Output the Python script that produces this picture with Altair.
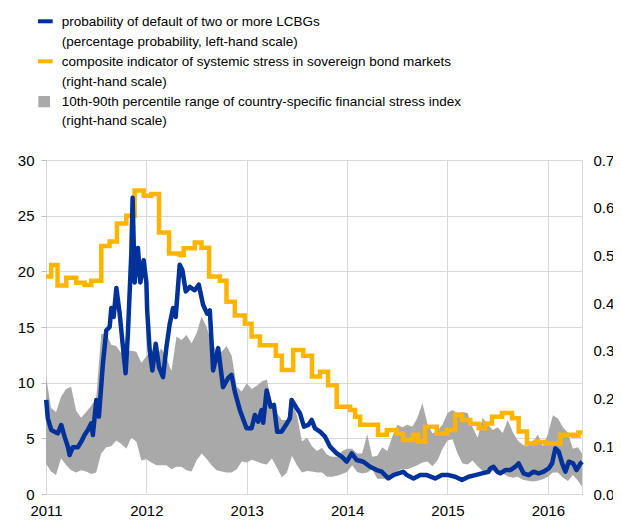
import altair as alt
import pandas as pd

# ---------------- data ----------------
# probability of default of two or more LCBGs (left-hand scale, %)
pd_years = [2011.002, 2011.018, 2011.052, 2011.085, 2011.118, 2011.152, 2011.185, 2011.218, 2011.235, 2011.267,
            2011.317, 2011.351, 2011.384, 2011.417, 2011.451, 2011.467, 2011.501, 2011.527, 2011.567, 2011.601,
            2011.634, 2011.651, 2011.674, 2011.701, 2011.734, 2011.760, 2011.793, 2011.816, 2011.850, 2011.863,
            2011.883, 2011.916, 2011.940, 2011.973, 2012.000, 2012.008, 2012.033, 2012.060, 2012.093, 2012.126,
            2012.166, 2012.200, 2012.233, 2012.266, 2012.292, 2012.332, 2012.359, 2012.392, 2012.432, 2012.482,
            2012.522, 2012.565, 2012.605, 2012.632, 2012.665, 2012.715, 2012.764, 2012.814, 2012.848, 2012.881,
            2012.931, 2012.998, 2013.048, 2013.081, 2013.114, 2013.148, 2013.164, 2013.198, 2013.238, 2013.271,
            2013.303, 2013.347, 2013.390, 2013.430, 2013.447, 2013.497, 2013.530, 2013.570, 2013.613, 2013.647,
            2013.680, 2013.730, 2013.780, 2013.830, 2013.896, 2013.946, 2013.996, 2014.046, 2014.096, 2014.162,
            2014.229, 2014.295, 2014.345, 2014.411, 2014.461, 2014.511, 2014.561, 2014.595, 2014.661, 2014.728,
            2014.794, 2014.877, 2014.944, 2015.010, 2015.077, 2015.144, 2015.210, 2015.277, 2015.343, 2015.409,
            2015.426, 2015.459, 2015.496, 2015.526, 2015.576, 2015.626, 2015.676, 2015.709, 2015.759, 2015.808,
            2015.858, 2015.908, 2015.958, 2016.008, 2016.042, 2016.075, 2016.108, 2016.142, 2016.175, 2016.208,
            2016.252, 2016.285, 2016.325, 2016.341]
pd_values = [8.45, 6.8, 5.75, 5.6, 5.45, 6.2, 5.15, 4.25, 3.5, 4.2,
             4.2, 4.7, 5.3, 5.75, 6.35, 5.3, 8.45, 6.95, 11.7, 14.7,
             15.0, 16.7, 15.9, 18.5, 16.2, 13.8, 10.85, 14.4, 21.6, 26.6,
             19.0, 22.1, 19.0, 21.0, 19.0, 16.5, 12.9, 11.1, 13.5, 11.4,
             10.5, 13.2, 15.3, 16.7, 15.9, 20.6, 20.1, 18.2, 18.6, 18.3,
             18.8, 17.0, 16.2, 16.5, 11.1, 13.1, 9.6, 10.4, 10.7, 9.2,
             7.55, 5.9, 5.9, 7.1, 6.5, 7.55, 6.4, 9.3, 7.85, 8.0,
             5.6, 5.6, 6.2, 6.8, 8.45, 7.7, 7.25, 6.05, 6.2, 6.65,
             5.9, 5.6, 5.15, 4.25, 3.65, 3.35, 2.9, 3.65, 3.05, 2.9,
             2.45, 2.15, 2.0, 1.4, 1.7, 1.85, 2.0, 1.7, 1.4, 1.7,
             1.7, 1.4, 1.7, 1.7, 1.55, 1.25, 1.55, 1.7, 1.85, 2.0,
             2.3, 2.45, 2.0, 1.85, 2.15, 2.15, 2.45, 2.75, 1.85, 1.7,
             2.0, 1.85, 2.0, 2.3, 2.75, 4.1, 3.8, 2.75, 2.0, 2.9,
             2.75, 2.15, 2.75, 2.9]

# composite indicator of systemic stress in sovereign bond markets (right-hand scale)
ciss_years = [2011.000, 2011.052, 2011.115, 2011.202, 2011.301, 2011.384, 2011.451, 2011.551, 2011.634, 2011.707,
              2011.800, 2011.883, 2011.973, 2012.050, 2012.126, 2012.226, 2012.332, 2012.372, 2012.482, 2012.549,
              2012.625, 2012.732, 2012.798, 2012.881, 2012.981, 2013.048, 2013.131, 2013.290, 2013.350, 2013.463,
              2013.563, 2013.650, 2013.730, 2013.810, 2013.896, 2014.030, 2014.080, 2014.130, 2014.308, 2014.395,
              2014.495, 2014.558, 2014.658, 2014.708, 2014.778, 2014.894, 2014.994, 2015.077, 2015.144, 2015.227,
              2015.310, 2015.376, 2015.443, 2015.543, 2015.643, 2015.709, 2015.792, 2015.875, 2015.975, 2016.125,
              2016.254, 2016.304, 2016.341]
ciss_values = [0.456, 0.48, 0.437, 0.453, 0.443, 0.438, 0.447, 0.52, 0.529, 0.567,
               0.583, 0.636, 0.625, 0.629, 0.548, 0.504, 0.501, 0.515, 0.527, 0.516,
               0.456, 0.447, 0.403, 0.374, 0.357, 0.33, 0.312, 0.29, 0.26, 0.302,
               0.29, 0.246, 0.256, 0.228, 0.183, 0.176, 0.162, 0.145, 0.124, 0.134,
               0.127, 0.113, 0.124, 0.11, 0.141, 0.127, 0.134, 0.166, 0.155, 0.147,
               0.138, 0.148, 0.162, 0.17, 0.159, 0.131, 0.106, 0.109, 0.106, 0.124,
               0.122, 0.129, 0.129]

# 10th-90th percentile range of country-specific financial stress index (right-hand scale)
band_years = [2011.00, 2011.05, 2011.10, 2011.15, 2011.20, 2011.25, 2011.30, 2011.35, 2011.40, 2011.45,
              2011.50, 2011.55, 2011.60, 2011.65, 2011.70, 2011.75, 2011.80, 2011.85, 2011.90, 2011.95,
              2012.00, 2012.05, 2012.10, 2012.15, 2012.20, 2012.25, 2012.30, 2012.35, 2012.40, 2012.45,
              2012.50, 2012.55, 2012.60, 2012.65, 2012.70, 2012.75, 2012.80, 2012.85, 2012.90, 2012.95,
              2013.00, 2013.05, 2013.10, 2013.15, 2013.20, 2013.25, 2013.30, 2013.35, 2013.40, 2013.45,
              2013.50, 2013.55, 2013.60, 2013.65, 2013.70, 2013.75, 2013.80, 2013.85, 2013.90, 2013.95,
              2014.00, 2014.05, 2014.10, 2014.15, 2014.20, 2014.25, 2014.30, 2014.35, 2014.40, 2014.45,
              2014.50, 2014.55, 2014.60, 2014.65, 2014.70, 2014.75, 2014.80, 2014.85, 2014.90, 2014.95,
              2015.00, 2015.05, 2015.10, 2015.15, 2015.20, 2015.25, 2015.30, 2015.35, 2015.40, 2015.45,
              2015.50, 2015.55, 2015.60, 2015.65, 2015.70, 2015.75, 2015.80, 2015.85, 2015.90, 2015.95,
              2016.00, 2016.05, 2016.10, 2016.15, 2016.20, 2016.25, 2016.30, 2016.34]
band_upper = [0.246, 0.18, 0.172, 0.204, 0.22, 0.225, 0.175, 0.16, 0.172, 0.185,
              0.2, 0.335, 0.337, 0.313, 0.31, 0.295, 0.3, 0.3, 0.298, 0.275,
              0.288, 0.305, 0.29, 0.305, 0.285, 0.258, 0.33, 0.323, 0.333, 0.316,
              0.337, 0.372, 0.35, 0.316, 0.3, 0.298, 0.31, 0.29, 0.225, 0.215,
              0.232, 0.22, 0.227, 0.236, 0.24, 0.19, 0.17, 0.155, 0.155, 0.19,
              0.165, 0.11, 0.118, 0.1, 0.09, 0.097, 0.082, 0.078, 0.078, 0.09,
              0.095, 0.095, 0.085, 0.085, 0.125, 0.078, 0.08, 0.098, 0.09, 0.12,
              0.145, 0.14, 0.145, 0.141, 0.16, 0.19, 0.148, 0.127, 0.133, 0.145,
              0.17, 0.176, 0.17, 0.172, 0.17, 0.14, 0.118, 0.16, 0.146, 0.134,
              0.14, 0.128, 0.155, 0.13, 0.112, 0.103, 0.1, 0.108, 0.125, 0.1,
              0.125, 0.165, 0.158, 0.14, 0.128, 0.095, 0.098, 0.085]
band_lower = [0.064, 0.047, 0.04, 0.075, 0.061, 0.05, 0.045, 0.05, 0.047, 0.042,
              0.045, 0.085, 0.098, 0.1, 0.112, 0.105, 0.095, 0.118, 0.11, 0.07,
              0.073, 0.066, 0.06, 0.06, 0.06, 0.052, 0.057, 0.057, 0.05, 0.047,
              0.07, 0.085, 0.074, 0.06, 0.05, 0.047, 0.045, 0.045, 0.052, 0.068,
              0.066, 0.072, 0.068, 0.064, 0.062, 0.075, 0.055, 0.035, 0.045, 0.08,
              0.06, 0.045, 0.048, 0.047, 0.045, 0.045, 0.036, 0.036, 0.038, 0.042,
              0.046, 0.06, 0.046, 0.043, 0.045, 0.052, 0.032, 0.032, 0.03, 0.035,
              0.048, 0.053, 0.052, 0.056, 0.06, 0.066, 0.068, 0.058, 0.07, 0.095,
              0.112, 0.115, 0.085, 0.064, 0.062, 0.07, 0.058, 0.048, 0.044, 0.048,
              0.045, 0.043, 0.037, 0.034, 0.036, 0.03, 0.028, 0.026, 0.028, 0.031,
              0.036, 0.045, 0.045, 0.034, 0.027, 0.04, 0.028, 0.015]

x_ticks = [2011, 2012, 2013, 2014, 2015, 2016]
left_ticks = [0, 5, 10, 15, 20, 25, 30]
right_ticks = [0.0, 0.1, 0.2, 0.3, 0.4, 0.5, 0.6, 0.7]

legend_lines = [
    "probability of default of two or more LCBGs",
    "(percentage probability, left-hand scale)",
    "composite indicator of systemic stress in sovereign bond markets",
    "(right-hand scale)",
    "10th-90th percentile range of country-specific financial stress index",
    "(right-hand scale)",
]

BLUE = "#003299"
YELLOW = "#ffb400"
GREY = "#a9a9a9"
GRID = "#d9d9d9"
FONT = "Liberation Sans"

# ---------------- chart ----------------
pd_df = pd.DataFrame({"year": pd_years, "pd": pd_values})
ciss_df = pd.DataFrame({"year": ciss_years, "ciss": ciss_values})
band_df = pd.DataFrame({"year": band_years, "upper": band_upper, "lower": band_lower})

x_enc = alt.X(
    "year:Q",
    scale=alt.Scale(domain=[2011, 2016.34], nice=False, zero=False),
    axis=alt.Axis(values=x_ticks, format="d", grid=True, gridColor=GRID, tickSize=0,
                  labelPadding=9, domainColor=GRID, labelFontSize=15, labelColor="#000000",
                  labelFlush=False, labelOverlap=False, title=None, labelFont=FONT),
)

right_axis = alt.Axis(orient="right", values=right_ticks, format=".1f", grid=False, tickSize=0,
                      labelPadding=11, domain=True, domainColor=GRID, labelFontSize=15,
                      labelColor="#000000", title=None, labelFont=FONT, labelFlush=False)
right_scale = alt.Scale(domain=[0, 0.7], nice=False, zero=True)

band = alt.Chart(band_df).mark_area(color=GREY, opacity=1).encode(
    x=x_enc,
    y=alt.Y("upper:Q", scale=right_scale, axis=right_axis),
    y2="lower:Q",
)
ciss = alt.Chart(ciss_df).mark_line(color=YELLOW, strokeWidth=4.5, interpolate="step-after").encode(
    x=x_enc,
    y=alt.Y("ciss:Q", scale=right_scale, axis=right_axis),
)
right_group = alt.layer(band, ciss)

prob = alt.Chart(pd_df).mark_line(color=BLUE, strokeWidth=4.5, strokeJoin="round").encode(
    x=x_enc,
    y=alt.Y("pd:Q", scale=alt.Scale(domain=[0, 30], nice=False),
            axis=alt.Axis(orient="left", values=left_ticks, grid=True, gridColor=GRID,
                          tickSize=5, tickColor="#bfbfbf", labelPadding=7, domain=False,
                          labelFontSize=15, labelColor="#000000", title=None, labelFont=FONT,
                          labelFlush=False)),
)

one = pd.DataFrame({"k": [0]})
legend_layers = []
line_y = [-138, -118.5, -98, -78.5, -58, -39]
for txt, yy in zip(legend_lines, line_y):
    legend_layers.append(
        alt.Chart(one).mark_text(text=txt, align="left", baseline="middle", fontSize=13.5,
                                 font=FONT, color="#000000")
        .encode(x=alt.value(15.7), y=alt.value(yy))
    )
legend_layers.append(alt.Chart(one).mark_rect(color=BLUE).encode(
    x=alt.value(-8), x2=alt.value(6.7), y=alt.value(-140.7), y2=alt.value(-136.7)))
legend_layers.append(alt.Chart(one).mark_rect(color=YELLOW).encode(
    x=alt.value(-8), x2=alt.value(6.7), y=alt.value(-100.7), y2=alt.value(-96.7)))
legend_layers.append(alt.Chart(one).mark_rect(color=GREY).encode(
    x=alt.value(-7.7), x2=alt.value(4), y=alt.value(-64), y2=alt.value(-52.7)))

# svg kept 605 px wide so that, with the page's 8px margin, it fits the 621 px window
chart = alt.layer(right_group, prob, *legend_layers).resolve_scale(y="independent").properties(
    width=536,
    height=334,
    padding={"left": 38, "top": 152, "right": 31, "bottom": 26},
    autosize=alt.AutoSizeParams(type="none"),
).configure_view(stroke=None).configure(font=FONT)

chart.save("out.html", embed_options={"renderer": "svg", "actions": False})
